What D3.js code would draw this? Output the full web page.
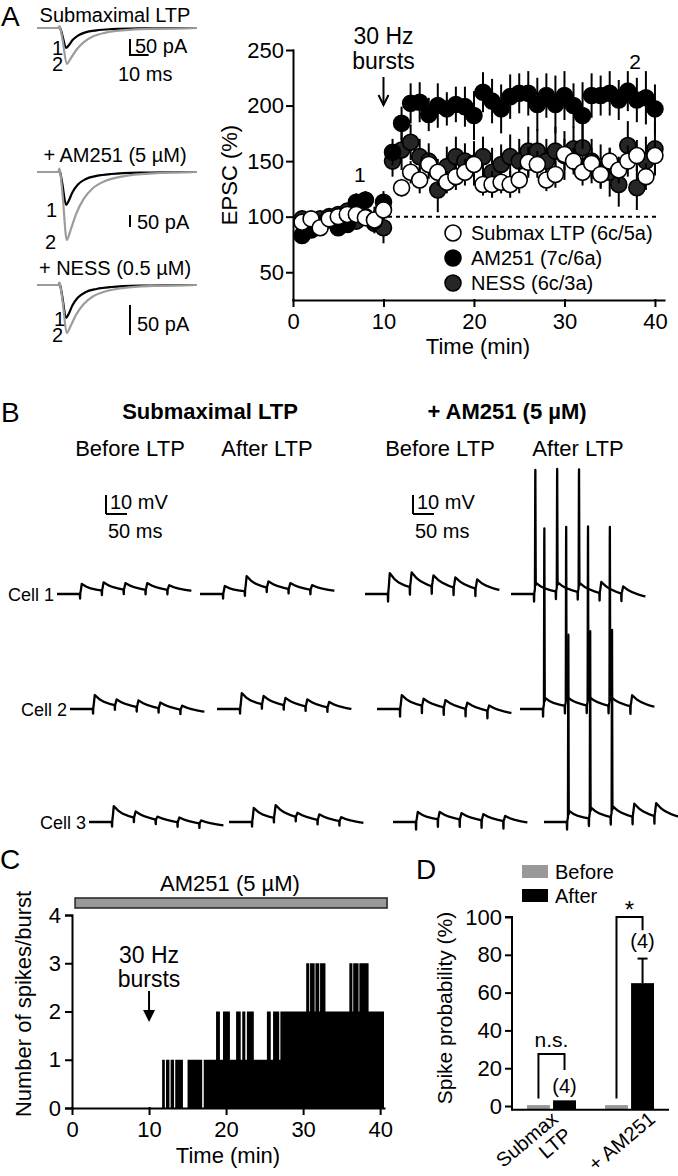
<!DOCTYPE html>
<html>
<head>
<meta charset="utf-8">
<script src="https://cdn.jsdelivr.net/npm/d3@7"></script>
<style>
  body { margin: 0; background: #fff; }
  text { font-family: "Liberation Sans", Arial, Helvetica, sans-serif; fill: #000; }
</style>
</head>
<body>
<svg id="fig" width="678" height="1176"></svg>
<script>
// ---------- data ----------
// A: EPSC time course (% baseline), one point per minute
var minutes = [1,2,3,4,5,6,7,8,9,10,11,12,13,14,15,16,17,18,19,20,21,22,23,24,25,26,27,28,29,30,31,32,33,34,35,36,37,38,39,40];
var submaxMean = [95,98,90,98,100,102,102,99,97,106,null,126,140,133,147,140,131,136,140,147,129,129,131,129,133,149,147,133,138,156,150,140,148,138,150,142,150,155,136,155];
var submaxSem  = [4,5,3,4,4,5,5,6,12,8,null,8,10,12,10,12,10,12,12,14,10,12,10,12,12,14,12,10,12,14,12,12,14,12,12,12,14,14,12,14];
var am251Mean  = [83,88,94,97,90,93,113,115,96,113,158,184,202,203,192,200,197,201,199,191,212,204,197,208,211,211,201,209,201,209,200,191,209,209,211,205,213,205,207,197];
var am251Sem   = [5,6,5,6,6,7,8,8,10,10,12,15,18,18,15,20,15,16,18,22,18,20,22,20,18,20,24,20,26,22,20,30,20,18,20,18,18,20,24,22];
var nessMean   = [98,95,98,100,102,105,96,100,94,90,150,160,167,154,150,124,145,154,150,148,154,140,147,154,150,159,159,150,159,155,161,162,150,145,140,129,164,126,150,161];
var nessSem    = [4,5,4,5,5,6,6,6,8,14,14,18,16,16,16,20,18,18,16,20,18,22,18,20,20,22,20,20,22,22,20,22,20,20,22,20,22,20,22,24];
var legendA = ['Submax LTP (6c/5a)', 'AM251 (7c/6a)', 'NESS (6c/3a)'];

// A: example EPSCs (shape = [ms, fraction of peak]), peaks in pA
var epscTitles = ['Submaximal LTP', '+ AM251 (5 \u00b5M)', '+ NESS (0.5 \u00b5M)'];
var epscShapeBlack = [[0,0],[11.5,0],[12,-0.06],[12.6,0.04],[13.6,0.35],[15.6,1],[17,0.88],[19,0.62],[22,0.38],[26,0.22],[32,0.12],[40,0.06],[55,0.02],[86,0]];
var epscShapeGray  = [[0,0],[11.5,0],[12,-0.05],[12.6,0.03],[13.8,0.35],[16,1],[18,0.86],[21,0.62],[25,0.4],[30,0.24],[37,0.13],[47,0.06],[62,0.02],[86,0]];
var epscPeak1 = [62, 137, 55];
var epscPeak2 = [112, 283, 80];

// B: EPSP bursts, increments (mV) per pulse
var pulseMs = [55, 107, 159, 211, 263];
var traceMs = 320;
var cellNames = ['Cell 1', 'Cell 2', 'Cell 3'];
var conditionNames = ['Before LTP', 'After LTP', 'Before LTP', 'After LTP'];
var cell1Epsp = [[5.3,4.4,3.5,3.6,2.5],[4.2,8.0,3.4,3.2,2.5],[11,8,6,5.5,5],[6,5,5,6,4]];
var cell2Epsp = [[7.4,3.2,3.6,3.1,2.2],[8.4,4.5,3.9,3.8,3.0],[7.4,3.8,4.0,3.4,2.9],[6,5,5,5,6]];
var cell3Epsp = [[8.4,3.4,1.7,2.6,1.7],[7.4,6.9,2.3,3.0,2.2],[5.3,4.0,3.4,3.3,2.8],[6,6,6,7,7]];
var cellSpikes = [[68,68,68,0,0],[101,101,101,101,0],[105,105,105,0,0]];
var cellDrift = [[0,0,-1,-4],[-3,-2,-4,-2],[-3,-2,-2,-1]];
var artifactMv = [3, 3, 5, 5];
var epspKernelMs = [0, 1.5, 4, 8, 15, 25, 40, 52, 70, 100, 150, 220, 400];
var epspKernel   = [0, 0.3, 1, 0.9, 0.72, 0.56, 0.42, 0.35, 0.26, 0.16, 0.07, 0.02, 0];

// C: spikes per burst (step changes)
var stepTimes  = [0,11.7,12.05,12.2,12.65,12.8,13.25,13.4,14.4,15.0,16.9,17.1,18.7,19.2,19.6,20.5,21.3,21.9,22.1,22.5,22.7,23.6,25.3,25.8,26.1,26.9,27.05,30.4,30.8,30.9,31.5,31.6,32.1,32.2,32.9,36.0,36.4,36.5,37.2,37.3,38.5,40.5];
var stepCounts = [0,1,0,1,0,1,0,1,0,1,0,1,2,1,2,1,2,1,2,1,2,1,2,1,2,1,2,3,2,3,2,3,2,3,2,3,2,3,2,3,2,0];
var drugPeriod = [0.4, 40.9];

// D: spike probability (%)
var spikeGroups = ['Submax LTP', '+ AM251'];
var spikePhases = ['Before', 'After'];
var spikeBefore = [0.5, 0.5];
var spikeAfter = [3, 65];
var spikeAfterSem = [0.5, 13];

// ---------- helpers ----------
var svg = d3.select('#fig');

function txt(g, x, y, s, size, anchor, weight) {
  return g.append('text').attr('x', x).attr('y', y).text(s)
    .attr('font-size', size).attr('text-anchor', anchor || 'start')
    .attr('font-weight', weight || 'normal');
}
function seg(g, x1, y1, x2, y2, w) {
  return g.append('line').attr('x1', x1).attr('y1', y1).attr('x2', x2).attr('y2', y2)
    .attr('stroke', '#000').attr('stroke-width', w || 2);
}
function styleAxis(g, size) {
  g.attr('font-family', null).attr('font-size', size);
  g.selectAll('.domain, .tick line').attr('stroke', '#000').attr('stroke-width', 2).attr('stroke-linecap', 'square');
  g.selectAll('.tick text').attr('fill', '#000');
}

// ---------- panel letters ----------
txt(svg, 1, 26, 'A', 28);
txt(svg, 1, 422, 'B', 28);
txt(svg, 0, 869, 'C', 28);
txt(svg, 416, 879, 'D', 28);

// ---------- A: traces ----------
var gT = svg.append('g');
var xT = d3.scaleLinear().domain([0, 86]).range([37, 197]);
var epscBase = [28, 172, 285];
var epscBarPx = [16, 12, 30];
var epscTitleY = [22, 162, 275];
var epscLbl = [[52, 55, 52, 71], [46, 217, 45, 249], [54, 326, 52, 342]];
epscTitles.forEach(function(t, i) {
  var base = epscBase[i], gain = epscBarPx[i] / 50;
  txt(gT, 115, epscTitleY[i], t, 20, 'middle');
  var lnB = d3.line().x(function(d) { return xT(d[0]); })
    .y(function(d) { return base + d[1] * epscPeak1[i] * gain; }).curve(d3.curveMonotoneX);
  var lnG = d3.line().x(function(d) { return xT(d[0]); })
    .y(function(d) { return base + d[1] * epscPeak2[i] * gain; }).curve(d3.curveMonotoneX);
  gT.append('path').attr('d', lnB(epscShapeBlack)).attr('fill', 'none').attr('stroke', '#000').attr('stroke-width', 2.2);
  gT.append('path').attr('d', lnG(epscShapeGray)).attr('fill', 'none').attr('stroke', '#9c9c9c').attr('stroke-width', 2.2);
  txt(gT, epscLbl[i][0], epscLbl[i][1], '1', 20);
  txt(gT, epscLbl[i][2], epscLbl[i][3], '2', 20);
});
// scale bars
seg(gT, 130, 39, 130, 39 + epscBarPx[0]); seg(gT, 129, 55, 130 + xT(10) - xT(0), 55);
txt(gT, 135, 53, '50 pA', 20); txt(gT, 118, 81, '10 ms', 20);
seg(gT, 130, 215, 130, 215 + epscBarPx[1]); txt(gT, 137, 229, '50 pA', 20);
seg(gT, 130, 305, 130, 305 + epscBarPx[2]); txt(gT, 137, 331, '50 pA', 20);

// ---------- A: time course ----------
var gA = svg.append('g');
var xA = d3.scaleLinear().domain([0, 41]).range([293, 664]);
var yA = d3.scaleLinear().domain([25, 250]).range([300, 50]);

gA.append('line').attr('x1', xA(10.5)).attr('x2', xA(40.5)).attr('y1', yA(100)).attr('y2', yA(100))
  .attr('stroke', '#000').attr('stroke-width', 2).attr('stroke-dasharray', '4,4');

var seriesA = [
  { mean: nessMean, sem: nessSem, fill: '#262626' },
  { mean: am251Mean, sem: am251Sem, fill: '#000' },
  { mean: submaxMean, sem: submaxSem, fill: '#fff' }
];
seriesA.forEach(function(s) {
  var pts = minutes.map(function(m, i) { return { t: m, v: s.mean[i], e: s.sem[i] }; })
    .filter(function(d) { return d.v !== null; });
  var g = gA.append('g');
  g.selectAll('line').data(pts).enter().append('line')
    .attr('x1', function(d) { return xA(d.t); }).attr('x2', function(d) { return xA(d.t); })
    .attr('y1', function(d) { return yA(d.v - d.e); }).attr('y2', function(d) { return yA(d.v + d.e); })
    .attr('stroke', '#000').attr('stroke-width', 2);
  g.selectAll('circle').data(pts).enter().append('circle')
    .attr('cx', function(d) { return xA(d.t); }).attr('cy', function(d) { return yA(d.v); })
    .attr('r', 8).attr('fill', s.fill).attr('stroke', '#000').attr('stroke-width', 1.6);
});

var axXA = gA.append('g').attr('transform', 'translate(0,300)')
  .call(d3.axisBottom(xA).tickValues([0, 10, 20, 30, 40]).tickSize(6).tickSizeOuter(0).tickPadding(7));
styleAxis(axXA, 22);
var axYA = gA.append('g').attr('transform', 'translate(293,0)')
  .call(d3.axisLeft(yA).tickValues([50, 100, 150, 200, 250]).tickSize(6).tickSizeOuter(0).tickPadding(3));
styleAxis(axYA, 22);

txt(gA, 478, 354, 'Time (min)', 22, 'middle');
txt(gA, 0, 0, 'EPSC (%)', 22, 'middle').attr('transform', 'translate(237,175) rotate(-90)');
txt(gA, xA(10), 44, '30 Hz', 23, 'middle');
txt(gA, xA(10), 69, 'bursts', 23, 'middle');
seg(gA, xA(10), 77, xA(10), 105);
gA.append('path').attr('d', 'M' + (xA(10) - 5) + ',95L' + xA(10) + ',105L' + (xA(10) + 5) + ',95')
  .attr('fill', 'none').attr('stroke', '#000').attr('stroke-width', 2);
txt(gA, xA(7.4), 182, '1', 21, 'middle');
txt(gA, xA(37.8), 69, '2', 21, 'middle');

// legend
var legFill = ['#fff', '#000', '#262626'];
legendA.forEach(function(l, i) {
  var cy = 233 + i * 25;
  gA.append('circle').attr('cx', 453).attr('cy', cy).attr('r', 8).attr('fill', legFill[i])
    .attr('stroke', '#000').attr('stroke-width', 1.6);
  txt(gA, 471, cy + 7, l, 20);
});

// ---------- B ----------
var gB = svg.append('g');
txt(gB, 210, 419, 'Submaximal LTP', 22, 'middle', 'bold');
txt(gB, 507, 419, '+ AM251 (5 \u00b5M)', 22, 'middle', 'bold');
var condCx = [130, 267, 440, 578];
conditionNames.forEach(function(c, i) { txt(gB, condCx[i], 456, c, 22, 'middle'); });

var pxPerMs = 0.42, pxPerMv = 1.9;
[106, 413].forEach(function(x0) {
  seg(gB, x0, 495, x0, 495 + 10 * pxPerMv);
  seg(gB, x0, 514, x0 + 50 * pxPerMs, 514);
  txt(gB, x0 + 4, 509, '10 mV', 20);
  txt(gB, x0 + 2, 538, '50 ms', 20);
});

var kernel = d3.scaleLinear().domain(epspKernelMs).range(epspKernel).clamp(true);
var artifact = d3.scaleLinear().domain([-0.6, -0.1, 0.4]).range([0, -1, 0]).clamp(true);
var spikeShape = d3.scaleLinear().domain([2, 2.9, 3.9, 5]).range([0, 1, -0.02, 0]).clamp(true);
var tGrid = d3.range(0, traceMs + 0.25, 0.25);

var cellBase = [594, 709, 822];
var cellLeft = [[57, 200, 365, 511], [70, 217, 377, 520], [89, 229, 393, 544]];
var cellEpsp = [cell1Epsp, cell2Epsp, cell3Epsp];

cellNames.forEach(function(name, c) {
  var base = cellBase[c];
  txt(gB, cellLeft[c][0] - 3, base + 7, name, 18, 'end');
  conditionNames.forEach(function(cond, k) {
    var amps = cellEpsp[c][k];
    var spikes = k === 3 ? cellSpikes[c] : null;
    var drift = cellDrift[c][k];
    var pts = tGrid.map(function(t) {
      var v = 0;
      pulseMs.forEach(function(p, i) {
        v += amps[i] * kernel(t - p) + artifactMv[k] * artifact(t - p);
        if (spikes) v += spikes[i] * spikeShape(t - p);
      });
      v += drift * Math.max(0, (t - pulseMs[0]) / (traceMs - pulseMs[0]));
      return [t, v];
    });
    var xB = d3.scaleLinear().domain([0, traceMs]).range([cellLeft[c][k], cellLeft[c][k] + traceMs * pxPerMs]);
    var yB = d3.scaleLinear().domain([0, 10]).range([base, base - 10 * pxPerMv]);
    var ln = d3.line().x(function(d) { return xB(d[0]); }).y(function(d) { return yB(d[1]); });
    gB.append('path').attr('d', ln(pts)).attr('fill', 'none').attr('stroke', '#000')
      .attr('stroke-width', 2.3).attr('stroke-linejoin', 'round');
  });
});

// ---------- C ----------
var gC = svg.append('g');
var xC = d3.scaleLinear().domain([0, 40.5]).range([72, 384]);
var yC = d3.scaleLinear().domain([0, 4]).range([1108, 915]);
gC.append('rect').attr('x', xC(drugPeriod[0])).attr('y', 898).attr('width', xC(drugPeriod[1]) - xC(drugPeriod[0]))
  .attr('height', 10).attr('fill', '#999').attr('stroke', '#222').attr('stroke-width', 1.5);
txt(gC, 230, 891, 'AM251 (5 \u00b5M)', 22, 'middle');

var steps = stepTimes.map(function(t, i) { return [t, stepCounts[i]]; });
var areaC = d3.area().x(function(d) { return xC(d[0]); }).y0(yC(0))
  .y1(function(d) { return yC(d[1]); }).curve(d3.curveStepAfter);
gC.append('path').attr('d', areaC(steps)).attr('fill', '#000');

var axXC = gC.append('g').attr('transform', 'translate(0,1108)')
  .call(d3.axisBottom(xC).tickValues([0, 10, 20, 30, 40]).tickFormat(d3.format('d')).tickSize(6).tickSizeOuter(0).tickPadding(7));
styleAxis(axXC, 22);
var axYC = gC.append('g').attr('transform', 'translate(72,0)')
  .call(d3.axisLeft(yC).tickValues([0, 1, 2, 3, 4]).tickFormat(d3.format('d')).tickSize(6).tickSizeOuter(6).tickPadding(5));
styleAxis(axYC, 22);

txt(gC, 228, 1163, 'Time (min)', 22, 'middle');
txt(gC, 0, 0, 'Number of spikes/burst', 22, 'middle').attr('transform', 'translate(31,1004) rotate(-90)');
txt(gC, xC(10), 963, '30 Hz', 23, 'middle');
txt(gC, xC(10), 987, 'bursts', 23, 'middle');
seg(gC, xC(10), 991, xC(10), 1012);
gC.append('path').attr('d', 'M' + (xC(10) - 6) + ',1010L' + (xC(10) + 6) + ',1010L' + xC(10) + ',1022Z').attr('fill', '#000');

// ---------- D ----------
var gD = svg.append('g');
var xD = d3.scaleBand().domain(spikeGroups).range([512, 669]).paddingInner(0.372).paddingOuter(0.192);
var xDi = d3.scaleBand().domain(spikePhases).range([0, xD.bandwidth()]).paddingInner(0.12);
var yD = d3.scaleLinear().domain([-2, 100]).range([1109.8, 917]);
var phaseFill = { Before: '#999', After: '#000' };

spikeGroups.forEach(function(gname, i) {
  var vals = { Before: spikeBefore[i], After: spikeAfter[i] };
  spikePhases.forEach(function(ph) {
    gD.append('rect').attr('x', xD(gname) + xDi(ph)).attr('y', yD(vals[ph]))
      .attr('width', xDi.bandwidth()).attr('height', yD(-2) - yD(vals[ph])).attr('fill', phaseFill[ph]);
  });
  var cx = xD(gname) + xDi('After') + xDi.bandwidth() / 2;
  if (spikeAfterSem[i] > 1) {
    seg(gD, cx, yD(spikeAfter[i]), cx, yD(spikeAfter[i] + spikeAfterSem[i]));
    seg(gD, cx - 5, yD(spikeAfter[i] + spikeAfterSem[i]), cx + 5, yD(spikeAfter[i] + spikeAfterSem[i]));
  }
});

var axYD = gD.append('g').attr('transform', 'translate(512,0)')
  .call(d3.axisLeft(yD).tickValues([0, 20, 40, 60, 80, 100]).tickSize(6).tickSizeOuter(0).tickPadding(4));
styleAxis(axYD, 22);
axYD.select('.domain').attr('d', 'M-6,' + yD(100) + 'H0V' + yD(-2));
seg(gD, 512, yD(-2), 669, yD(-2));

// significance brackets
function bracket(gname, yTop, yLeft, yRight) {
  var xl = xD(gname) + xDi('Before') + xDi.bandwidth() / 2;
  var xr = xD(gname) + xDi('After') + xDi.bandwidth() / 2;
  gD.append('path').attr('d', 'M' + xl + ',' + yD(yLeft) + 'V' + yD(yTop) + 'H' + xr + 'V' + yD(yRight))
    .attr('fill', 'none').attr('stroke', '#000').attr('stroke-width', 2);
  return (xl + xr) / 2;
}
var m1 = bracket('Submax LTP', 27.5, 4, 19);
txt(gD, m1, yD(31), 'n.s.', 21, 'middle');
var m2 = bracket('+ AM251', 100, 4, 93);
txt(gD, m2, yD(100) + 1, '*', 24, 'middle');
txt(gD, xD('Submax LTP') + xDi('After') + xDi.bandwidth() / 2, yD(6.9), '(4)', 20, 'middle');
txt(gD, xD('+ AM251') + xDi('After') + xDi.bandwidth() / 2, yD(83.6), '(4)', 20, 'middle');

txt(gD, 0, 0, 'Spike probability (%)', 21, 'middle').attr('transform', 'translate(452,1008) rotate(-90)');

// legend
spikePhases.forEach(function(ph, i) {
  gD.append('rect').attr('x', 522).attr('y', 865 + i * 24).attr('width', 26).attr('height', 13).attr('fill', phaseFill[ph]);
  txt(gD, 555, 879 + i * 24, ph, 20);
});

// category labels
var catDx = [8, 27];
var gl1 = gD.append('g').attr('transform', 'translate(' + (xD('Submax LTP') + xD.bandwidth() / 2 + catDx[0]) + ',1121) rotate(-40)');
txt(gl1, 0, 0, 'Submax', 20, 'end');
txt(gl1, 0, 21, 'LTP', 20, 'end');
var gl2 = gD.append('g').attr('transform', 'translate(' + (xD('+ AM251') + xD.bandwidth() / 2 + catDx[1]) + ',1121) rotate(-40)');
txt(gl2, 0, 0, '+ AM251', 20, 'end');
</script>
</body>
</html>
